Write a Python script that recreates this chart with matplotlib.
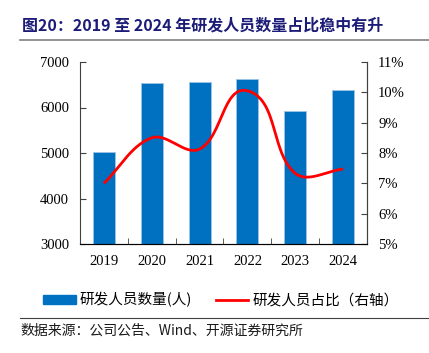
import numpy as np
import matplotlib
matplotlib.use("Agg")
import matplotlib.pyplot as plt
from matplotlib.patches import Patch
from matplotlib.lines import Line2D

years = ["2019", "2020", "2021", "2022", "2023", "2024"]
staff = [5020, 6530, 6565, 6625, 5920, 6390]
ratio = [7.00, 8.50, 8.13, 10.05, 7.33, 7.47]
left_ticks = [3000, 4000, 5000, 6000, 7000]
right_ticks = [5, 6, 7, 8, 9, 10, 11]

title = "图20：2019 至 2024 年研发人员数量占比稳中有升"
legend_bar = "研发人员数量(人)"
legend_line = "研发人员占比（右轴）"
source = "数据来源：公司公告、Wind、开源证券研究所"

W, H = 429, 353
fig = plt.figure(figsize=(W / 100, H / 100), dpi=100)

cjk = ["Noto Sans CJK SC", "DejaVu Sans"]
serif = ["Liberation Serif", "Noto Sans CJK SC"]

ax = fig.add_axes([80 / W, (H - 244) / H, 287 / W, (244 - 62) / H])
x = np.arange(len(years))
ax.bar(x, staff, width=0.46, color="#0070C0", edgecolor="#9DC3E6", linewidth=0.6, zorder=2)
ax.set_ylim(3000, 7000)
ax.set_xlim(-0.5, len(years) - 0.5)
ax.set_yticks(left_ticks)
ax.set_yticklabels([str(v) for v in left_ticks], fontfamily=serif, fontsize=10.5)
ax.set_xticks(x)
ax.set_xticklabels(years, fontfamily=serif, fontsize=10.5)
ax.set_xticks(np.arange(0.5, len(years) - 0.5, 1.0), minor=True)
ax.tick_params(axis="x", which="major", length=0, pad=8)
ax.tick_params(axis="x", which="minor", direction="in", length=4, color="#404040")
ax.tick_params(axis="y", direction="in", length=4, color="#404040", pad=8)
ax.spines["top"].set_visible(False)
for s in ["left", "bottom", "right"]:
    ax.spines[s].set_color("#404040")
    ax.spines[s].set_linewidth(0.8)

ax2 = ax.twinx()
ax2.set_ylim(5, 11)
ax2.set_yticks(right_ticks)
ax2.set_yticklabels([f"{v}%" for v in right_ticks], fontfamily=serif, fontsize=10.5)
ax2.tick_params(axis="y", direction="in", length=4, color="#404040", pad=8)
ax2.spines["top"].set_visible(False)
ax2.spines["right"].set_color("#404040")
ax2.spines["right"].set_linewidth(0.8)
ax2.spines["left"].set_visible(False)

# Smoothed line (Excel-like Bezier smoothing computed in pixel space)
sx, sy = 47.8, 30.33
P = np.column_stack([x.astype(float) * sx, np.array(ratio) * sy])
n = len(P)
dirs = []
for i in range(n):
    a = P[i - 1] if i > 0 else P[i]
    b = P[i + 1] if i + 1 < n else P[i]
    d = b - a
    dirs.append(d / np.linalg.norm(d))
pts = []
for i in range(n - 1):
    p1, p2 = P[i], P[i + 1]
    L = np.linalg.norm(p2 - p1)
    c1 = p1 + dirs[i] * L / 3
    c2 = p2 - dirs[i + 1] * L / 3
    t = np.linspace(0, 1, 50)[:, None]
    seg = (1 - t) ** 3 * p1 + 3 * (1 - t) ** 2 * t * c1 + 3 * (1 - t) * t ** 2 * c2 + t ** 3 * p2
    pts.append(seg if i == 0 else seg[1:])
curve = np.vstack(pts)
ax2.plot(curve[:, 0] / sx, curve[:, 1] / sy, color="#FF0000", linewidth=2.0,
         solid_capstyle="butt", zorder=3)

# Title
fig.text(22 / W, 1 - 25 / H, title, fontfamily=cjk, fontsize=11.5, fontweight="bold",
         color="#1C1C78", va="center", ha="left")
fig.add_artist(Line2D([20 / W, 1.0], [1 - 40 / H, 1 - 40 / H], color="#808080", linewidth=1.2))

# Legend
handles = [Patch(facecolor="#0070C0", edgecolor="#0070C0"),
           Line2D([0], [0], color="#FF0000", linewidth=2.0)]
fig.legend(handles, [legend_bar, legend_line], loc="center", bbox_to_anchor=(0.515, 1 - 300 / H),
           ncol=2, frameon=False, prop={"family": cjk, "size": 10.5},
           handlelength=2.2, handleheight=0.55, handletextpad=0.3, columnspacing=1.6)
fig.add_artist(Line2D([20 / W, 1.0], [1 - 318 / H, 1 - 318 / H], color="#404040", linewidth=0.8))

fig.text(20 / W, 1 - 331 / H, source, fontfamily=cjk, fontsize=10, color="#1A1A1A",
         va="center", ha="left")

fig.savefig("out.png", dpi=100)
